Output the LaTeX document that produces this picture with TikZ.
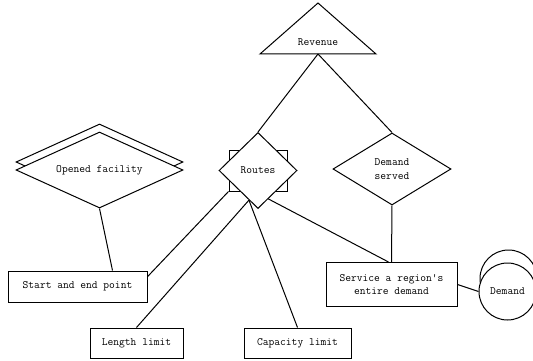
\documentclass[tikz,border=0pt]{standalone}
\usepackage{fontspec}
\usetikzlibrary{shapes.geometric}
\begin{document}
\begin{tikzpicture}[x=1pt,y=-1pt,line width=1pt,
  every node/.style={font=\fontsize{11.2}{13.5}\selectfont\ttfamily},
  box/.style={draw,rectangle,fill=white,inner sep=0pt,align=center},
  rel/.style={draw,diamond,fill=white,inner sep=0pt,align=center},
  ent/.style={draw,circle,fill=white,minimum size=57pt,inner sep=0pt}]
\useasboundingbox (0,0) rectangle (533,361);
% attribute
\draw (318,3)--(260,54)--(376,54)--cycle;
\node (rev) at (318,42) {Revenue};
\coordinate (revbase) at (318,54);
% relationships
\node[rel,aspect=2,minimum width=167pt,minimum height=76pt] (facback) at (99.5,162) {};
\node[rel,aspect=2,minimum width=167pt,minimum height=76pt] (facility) at (99.5,170) {Opened facility};
\node[box,minimum width=58pt,minimum height=41pt] (routesbox) at (258,170.5) {};
\node[rel,minimum width=78pt,minimum height=76pt] (routes) at (258,170.5) {Routes};
\node[rel,minimum width=118pt,minimum height=72pt] (served) at (392,169) {Demand\\served};
% entities
\node[box,minimum width=139pt,minimum height=31pt] (start) at (77.5,286.5) {Start and end point};
\node[box,minimum width=93pt,minimum height=30pt] (length) at (136.5,343) {Length limit};
\node[box,minimum width=107pt,minimum height=30pt] (capacity) at (297.5,343) {Capacity limit};
\node[box,minimum width=131pt,minimum height=44pt] (service) at (391.5,284.5) {Service a region's\\entire demand};
\node[ent] (demandback) at (508.5,278.5) {};
\node[ent] (demand) at (507.5,291.5) {Demand};
% links
\draw (revbase)--(routes.north);
\draw (revbase)--(served.north);
\draw (served.south)--(service.north);
\draw (routes.-70)--([xshift=-3pt]service.north);
\draw (routesbox.south west)--(start.8);
\draw (facility.south)--([xshift=35pt]start.north);
\draw (routes.253)--(length.north);
\draw (routes.253)--(capacity.north);
\draw (service.east)--(demand.west);
\end{tikzpicture}
\end{document}
